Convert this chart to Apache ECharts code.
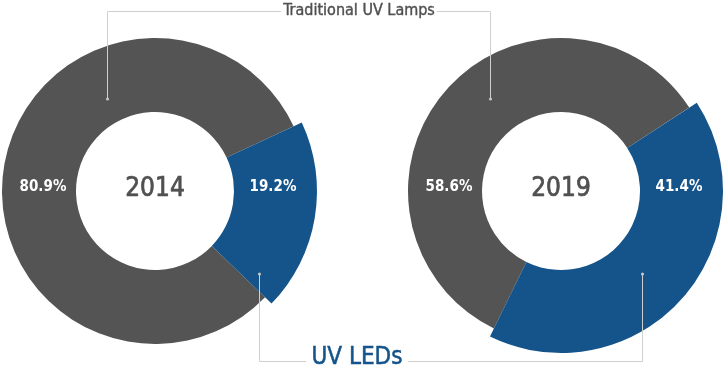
<!DOCTYPE html>
<html>
<head>
<meta charset="utf-8">
<style>
html,body{margin:0;padding:0;background:#fff;}
#chart{width:724px;height:374px;}
</style>
<script src="https://cdn.jsdelivr.net/npm/echarts@6/dist/echarts.min.js"></script>
</head>
<body>
<div id="chart"></div>
<script>
var years = ['2014', '2019'];
var lamps = [80.9, 58.6];
var leds = [19.2, 41.4];
var seriesNames = ['Traditional UV Lamps', 'UV LEDs'];

var GREY = '#545454', BLUE = '#14548A', LINE = '#cfcfcf';
var FONT = "'DejaVu Sans Condensed', 'Liberation Sans Narrow', sans-serif";
var centers = [[155, 191], [561, 191]];
var starts = [316, 244];

var chart = echarts.init(document.getElementById('chart'));
var series = [];
years.forEach(function (y, i) {
  series.push({
    type: 'pie', name: y + ' ' + seriesNames[0], center: centers[i], radius: [79, 153],
    startAngle: starts[i], clockwise: true, silent: true, animation: false,
    label: {show: false}, labelLine: {show: false},
    data: [
      {name: seriesNames[0], value: lamps[i], itemStyle: {color: GREY}},
      {name: seriesNames[1], value: leds[i], itemStyle: {color: 'rgba(0,0,0,0)'}}
    ]
  });
  series.push({
    type: 'pie', name: y + ' ' + seriesNames[1], center: centers[i], radius: [79, 162],
    startAngle: starts[i], clockwise: true, silent: true, animation: false,
    label: {show: false}, labelLine: {show: false},
    data: [
      {name: seriesNames[0], value: lamps[i], itemStyle: {color: 'rgba(0,0,0,0)'}},
      {name: seriesNames[1], value: leds[i], itemStyle: {color: BLUE}}
    ]
  });
});

var graphics = [];
years.forEach(function (y, i) {
  var c = centers[i];
  graphics.push({type: 'text', z: 100, x: c[0], y: c[1] - 2, style: {text: y, fill: '#505050', stroke: '#505050', lineWidth: 0.7, font: '26px ' + FONT, textAlign: 'center', textVerticalAlign: 'middle'}});
  graphics.push({type: 'text', z: 100, x: c[0] - 112, y: c[1] - 4, style: {text: lamps[i].toFixed(1) + '%', fill: '#ffffff', font: 'bold 15px ' + FONT, textAlign: 'center', textVerticalAlign: 'middle'}});
  graphics.push({type: 'text', z: 100, x: c[0] + 118, y: c[1] - 4, style: {text: leds[i].toFixed(1) + '%', fill: '#ffffff', font: 'bold 15px ' + FONT, textAlign: 'center', textVerticalAlign: 'middle'}});
});
// callout lines
graphics.push({type: 'polyline', z: 100, shape: {points: [[107.5, 99], [107.5, 11.5], [281, 11.5]]}, style: {stroke: LINE, lineWidth: 1, fill: null}});
graphics.push({type: 'polyline', z: 100, shape: {points: [[437, 11.5], [490.5, 11.5], [490.5, 99]]}, style: {stroke: LINE, lineWidth: 1, fill: null}});
graphics.push({type: 'polyline', z: 100, shape: {points: [[259.5, 274], [259.5, 361.5], [306, 361.5]]}, style: {stroke: LINE, lineWidth: 1, fill: null}});
graphics.push({type: 'polyline', z: 100, shape: {points: [[408, 361.5], [642.5, 361.5], [642.5, 274]]}, style: {stroke: LINE, lineWidth: 1, fill: null}});
[[107.5, 99], [490.5, 99], [259.5, 274], [642.5, 274]].forEach(function (p) {
  graphics.push({type: 'circle', z: 101, shape: {cx: p[0], cy: p[1], r: 1.6}, style: {fill: '#c4c4c4'}});
});
graphics.push({type: 'text', z: 100, x: 359, y: 11, style: {text: seriesNames[0], fill: '#505050', stroke: '#505050', lineWidth: 0.4, font: '16px ' + FONT, textAlign: 'center', textVerticalAlign: 'middle'}});
graphics.push({type: 'text', z: 100, x: 357, y: 358, style: {text: seriesNames[1], fill: BLUE, stroke: BLUE, lineWidth: 0.5, font: '24px ' + FONT, textAlign: 'center', textVerticalAlign: 'middle'}});

chart.setOption({
  backgroundColor: '#ffffff',
  animation: false,
  series: series,
  graphic: graphics
});
</script>
</body>
</html>
